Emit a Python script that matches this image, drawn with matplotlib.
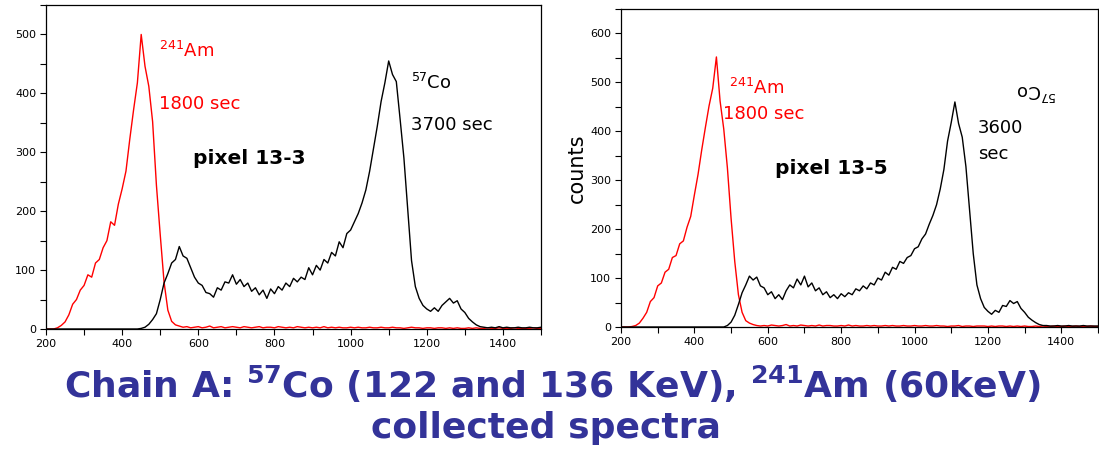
import numpy as np
import matplotlib
matplotlib.use("Agg")
import matplotlib.pyplot as plt
from matplotlib.ticker import MultipleLocator

plt.rcParams['font.family'] = ['DejaVu Sans']
plt.rcParams['mathtext.fontset'] = 'dejavusans'

# channel axis (200 .. 1500, step 10)
channels = np.arange(200, 1510, 10)

# ---- pixel 13-3 ----
am_13_3 = ([0, 0, 0, 2, 6, 12, 24, 42, 50, 66,
            74, 92, 88, 112, 118, 138, 150, 182, 176, 212,
            238, 268, 322, 372, 418, 500, 446, 412, 352, 244,
            160, 80, 32, 13, 7, 5, 3, 4, 2] +
           [3, 4, 2, 3, 5, 2, 3, 4, 2, 3, 4, 3, 2, 4, 3, 2, 3, 4, 2, 3,
            3, 2, 4, 3, 2, 3, 2, 4, 3, 2, 3, 2, 3, 2, 4, 2, 3, 2, 3, 2,
            2, 3, 2, 3, 2, 2, 3, 2, 2, 3, 2, 2, 3, 2, 2, 1, 2, 3, 2, 2,
            1, 2, 2, 1, 2, 2, 1, 2, 1, 2, 1, 1, 2, 1, 2, 1, 1, 2, 1, 1,
            2, 1, 1, 1, 2, 1, 1, 1, 1, 2, 1, 1])
co_13_3 = ([0] * 25 +
           [1, 3, 8, 16, 26, 50, 78, 94, 112, 118,
            140, 124, 120, 104, 88, 78, 74, 62, 60, 54,
            70, 66, 80, 78, 92, 76, 84, 72, 78, 64,
            70, 58, 66, 52, 68, 60, 72, 66, 78, 72,
            86, 80, 88, 84, 104, 92, 108, 100, 118, 112,
            130, 124, 148, 138, 162, 168, 182, 196, 214, 236,
            268, 306, 344, 386, 418, 455, 432, 420, 356, 290,
            202, 116, 72, 52, 40, 34, 30, 36, 30, 40,
            46, 52, 44, 48, 34, 28, 18, 12, 7, 4,
            3] +
           [2, 3, 2, 4, 2, 3, 2, 2, 3, 2, 2, 3, 2, 2, 3])

# ---- pixel 13-5 ----
am_13_5 = ([0, 0, 0, 1, 3, 8, 18, 30, 52, 60,
            84, 90, 112, 118, 142, 146, 170, 176, 204, 226,
            270, 312, 362, 408, 452, 488, 552, 462, 405, 325,
            222, 134, 66, 30, 13, 8, 5, 3, 2] +
           [3, 2, 4, 3, 2, 3, 5, 2, 3, 2, 4, 3, 2, 3, 2, 4, 2, 3, 3, 2,
            2, 3, 2, 4, 2, 3, 2, 2, 3, 2, 3, 2, 2, 3, 2, 3, 2, 2, 3, 2,
            2, 3, 2, 2, 3, 2, 2, 3, 2, 2, 1, 2, 2, 3, 1, 2, 2, 1, 2, 2,
            2, 1, 2, 1, 2, 2, 1, 2, 1, 2, 1, 2, 1, 1, 2, 1, 2, 1, 1, 2,
            1, 1, 2, 1, 1, 2, 1, 1, 1, 2, 1, 1])
co_13_5 = ([0] * 28 +
           [0, 3, 10, 24, 46, 70, 86, 104, 96, 102,
            84, 80, 66, 72, 58, 66, 56, 74, 86, 80,
            98, 86, 104, 82, 90, 74, 80, 66, 72, 60,
            66, 58, 68, 62, 70, 66, 78, 74, 84, 78,
            90, 86, 100, 96, 112, 106, 122, 118, 134, 130,
            142, 146, 160, 164, 180, 190, 210, 228, 250, 282,
            322, 380, 418, 460, 416, 388, 328, 240, 150, 86,
            58, 40, 32, 26, 34, 30, 44, 42, 54, 48,
            52, 38, 30, 20, 14, 9, 5, 3] +
           [3, 2, 2, 3, 2, 2, 3, 2, 2, 2, 3, 2, 2, 2, 2])

W, H = 1099, 451
fig = plt.figure(figsize=(W / 100, H / 100), dpi=100)
fig.patch.set_facecolor('white')

ax1 = fig.add_axes([46 / W, (H - 329) / H, 495 / W, 324 / H])
ax2 = fig.add_axes([621 / W, (H - 327) / H, 477 / W, 318 / H])

for ax, am, co, ymax, ytop in [(ax1, am_13_3, co_13_3, 550, 500),
                                (ax2, am_13_5, co_13_5, 650, 600)]:
    ax.plot(channels, am, color='#ff0000', lw=1.0)
    ax.plot(channels, co, color='black', lw=1.0)
    ax.set_xlim(200, 1500)
    ax.set_ylim(0, ymax)
    ax.xaxis.set_major_locator(MultipleLocator(200))
    ax.xaxis.set_minor_locator(MultipleLocator(100))
    ax.yaxis.set_major_locator(MultipleLocator(100))
    ax.yaxis.set_minor_locator(MultipleLocator(50))
    ax.tick_params(which='both', direction='out', length=4, width=0.8,
                   labelsize=8, pad=3, colors='black')
    for s in ax.spines.values():
        s.set_linewidth(0.9)
        s.set_color('black')

# annotations, pixel 13-3
ax1.text(496, 462, r'$^{241}$Am', color='#ff0000', fontsize=13)
ax1.text(496, 374, '1800 sec', color='#ff0000', fontsize=13)
ax1.text(585, 280, 'pixel 13-3', color='black', fontsize=14.5, fontweight='bold')
ax1.text(1159, 408, r'$^{57}$Co', color='black', fontsize=13)
ax1.text(1159, 337, '3700 sec', color='black', fontsize=13)

# annotations, pixel 13-5
ax2.text(493, 477, r'$^{241}$Am', color='#ff0000', fontsize=13)
ax2.text(479, 425, '1800 sec', color='#ff0000', fontsize=13)
ax2.text(620, 312, 'pixel 13-5', color='black', fontsize=14.5, fontweight='bold')
ax2.text(1332, 484, r'$^{57}$Co', color='black', fontsize=13,
         rotation=180, ha='center', va='center')
ax2.text(1172, 396, '3600', color='black', fontsize=13)
ax2.text(1172, 344, 'sec', color='black', fontsize=13)
ax2.set_ylabel('counts', fontsize=15, labelpad=2)

# title
title_color = '#333399'
fig.text(0.503, (H - 398) / H,
         r'Chain A: $^{\mathbf{57}}$Co (122 and 136 KeV), $^{\mathbf{241}}$Am (60keV)',
         ha='center', va='baseline', fontsize=26, fontweight='bold', color=title_color)
fig.text(0.497, (H - 438) / H, 'collected spectra',
         ha='center', va='baseline', fontsize=26, fontweight='bold', color=title_color)

fig.savefig('out.png', dpi=100, facecolor='white')
